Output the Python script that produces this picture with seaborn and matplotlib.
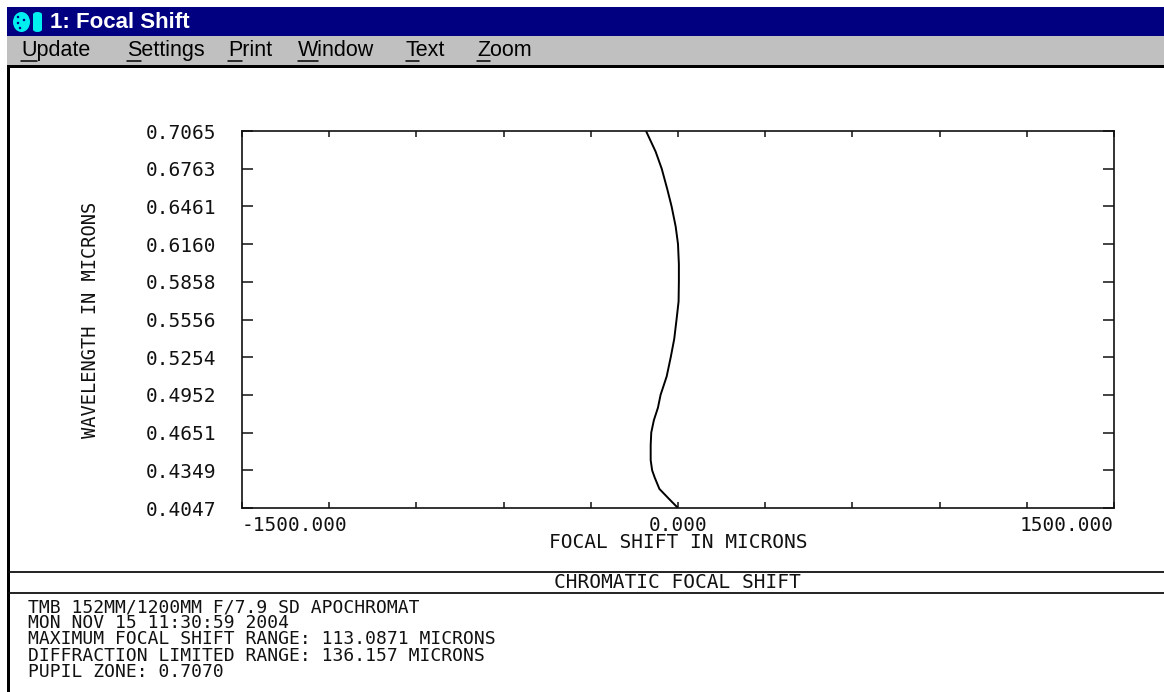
"""Chromatic focal shift window (Zemax style), redrawn with seaborn."""

import matplotlib.pyplot as plt
import pandas as pd
import seaborn as sns
from matplotlib.lines import Line2D
from matplotlib.patches import Ellipse, FancyBboxPatch, Rectangle

W, H = 1164, 692

# curve: wavelength (microns) vs focal shift (microns)
wavelength = [0.4047, 0.4120, 0.4200, 0.4290, 0.4349, 0.4430, 0.4550, 0.4651,
              0.4750, 0.4850, 0.4952, 0.5100, 0.5254, 0.5400, 0.5556, 0.5700,
              0.5858, 0.6000, 0.6160, 0.6300, 0.6461, 0.6600, 0.6763, 0.6900,
              0.7065]
focal_shift = [0, -31, -64, -80, -89, -94, -94, -92,
               -83, -69, -60, -39, -25, -13, -5, 2,
               3, 3, 0, -8, -22, -37, -56, -77,
               -110]

y_ticks = [0.4047, 0.4349, 0.4651, 0.4952, 0.5254, 0.5556, 0.5858, 0.6160,
           0.6461, 0.6763, 0.7065]
y_tick_labels = ["0.4047", "0.4349", "0.4651", "0.4952", "0.5254", "0.5556",
                 "0.5858", "0.6160", "0.6461", "0.6763", "0.7065"]
x_ticks = [-1500, -1200, -900, -600, -300, 0, 300, 600, 900, 1200, 1500]
x_tick_labels = ["-1500.000", "", "", "", "", "0.000", "", "", "", "", "1500.000"]

window_title = "1: Focal Shift"
menu_items = ["Update", "Settings", "Print", "Window", "Text", "Zoom"]
plot_title = "CHROMATIC FOCAL SHIFT"
info_lines = [
    "TMB 152MM/1200MM F/7.9 SD APOCHROMAT",
    "MON NOV 15 11:30:59 2004",
    "MAXIMUM FOCAL SHIFT RANGE: 113.0871 MICRONS",
    "DIFFRACTION LIMITED RANGE: 136.157 MICRONS",
    "PUPIL ZONE: 0.7070",
]

NAVY = "#000080"
GREY = "#c0c0c0"
INK = "#111111"
MONO = ["DejaVu Sans Mono", "DejaVu Sans"]
UI = ["Liberation Sans", "DejaVu Sans"]


def fx(x):
    return x / W


def fy(y):
    return 1 - y / H


def box(fig, x0, y0, x1, y1, color):
    fig.add_artist(Rectangle((fx(x0), fy(y1)), (x1 - x0) / W, (y1 - y0) / H,
                             transform=fig.transFigure, color=color, lw=0))


def hline(fig, x0, x1, y, lw=1.2, color=INK):
    fig.add_artist(Line2D([fx(x0), fx(x1)], [fy(y), fy(y)],
                          transform=fig.transFigure, color=color, lw=lw))


def draw_window(fig):
    # title bar + menu bar
    box(fig, 7, 7, W, 36, NAVY)
    box(fig, 7, 36, W, 65, GREY)
    box(fig, 7, 65, W, 67.5, "black")
    box(fig, 7, 65, 9.5, H, "black")

    # little cyan program icon
    fig.add_artist(Ellipse((fx(21.5), fy(22)), 17 / W, 20 / H,
                           transform=fig.transFigure, color="#00f0f0", lw=0))
    fig.add_artist(FancyBboxPatch((fx(33), fy(32)), 9 / W, 20 / H,
                                  boxstyle="round,pad=0,rounding_size=0.004",
                                  transform=fig.transFigure, color="#00f0f0", lw=0))
    for dx, dy in [(18, 17), (18, 23), (24, 20), (20, 28)]:
        fig.add_artist(Ellipse((fx(dx), fy(dy)), 2.5 / W, 2.5 / H,
                               transform=fig.transFigure, color=NAVY, lw=0))

    fig.text(fx(50), fy(22), window_title, color="white", fontsize=16,
             fontweight="bold", family=UI, va="center", ha="left")

    renderer = fig.canvas.get_renderer()
    menu_x = [21, 127, 228, 298, 406, 477]
    for label, x in zip(menu_items, menu_x):
        fig.text(fx(x), fy(50.5), label, color="black", fontsize=15.5,
                 family=UI, va="center", ha="left")
        first = fig.text(fx(x), fy(50.5), label[0], fontsize=15.5,
                         family=UI, va="center", ha="left")
        bb = first.get_window_extent(renderer)
        first.remove()
        hline(fig, bb.x0, bb.x1, 60.5, lw=1.1, color="black")

    # separators of the text panel at the bottom
    hline(fig, 9, W, 571.5, lw=1.3)
    hline(fig, 9, W, 592.5, lw=1.3)
    fig.text(fx(677), fy(582), plot_title, color=INK, fontsize=14,
             family=MONO, ha="center", va="center")

    # info block: one text, line pitch ~15.5 px like the screenshot
    size = 13
    em_px = size * 100 / 72
    fig.text(fx(28), fy(598), "\n".join(info_lines), color=INK, fontsize=size,
             family=MONO, ha="left", va="top",
             linespacing=15.0 / (0.952 * em_px))


def main():
    sns.set_style("white")
    plt.rcParams["font.family"] = MONO

    fig = plt.figure(figsize=(W / 100, H / 100), dpi=100, facecolor="white")
    left, right, top, bottom = 242, 1114, 131, 508
    ax = fig.add_axes([fx(left), fy(bottom), (right - left) / W, (bottom - top) / H])

    df = pd.DataFrame({"shift": focal_shift, "wavelength": wavelength})
    sns.lineplot(data=df, x="shift", y="wavelength", sort=False, estimator=None,
                 color="black", lw=1.4, ax=ax)

    ax.set_xlim(x_ticks[0], x_ticks[-1])
    ax.set_ylim(y_ticks[0], y_ticks[-1])
    ax.set_xticks(x_ticks)
    ax.set_xticklabels(x_tick_labels)
    ax.set_yticks(y_ticks)
    ax.set_yticklabels(y_tick_labels)
    labels = ax.get_xticklabels()
    labels[0].set_ha("left")
    labels[-1].set_ha("right")

    for s in ax.spines.values():
        s.set_color(INK)
        s.set_linewidth(1.2)
    ax.tick_params(axis="y", direction="in", left=True, right=True, length=8,
                   width=1.1, color=INK, pad=18.5, labelsize=14, labelcolor=INK)
    ax.tick_params(axis="x", direction="in", bottom=True, top=True, length=4.5,
                   width=1.1, color=INK, pad=5.5, labelsize=14, labelcolor=INK)

    ax.set_xlabel("FOCAL SHIFT IN MICRONS", fontsize=14, color=INK)
    ax.set_ylabel("WAVELENGTH IN MICRONS", fontsize=13.5, color=INK)
    ax.xaxis.set_label_coords(0.5, (bottom - 542) / (bottom - top))
    ax.xaxis.label.set_va("center")
    ax.yaxis.set_label_coords((90 - left) / (right - left), 0.5)
    ax.yaxis.label.set_va("center")

    draw_window(fig)

    fig.savefig("out.png", dpi=100, facecolor="white")


if __name__ == "__main__":
    main()
